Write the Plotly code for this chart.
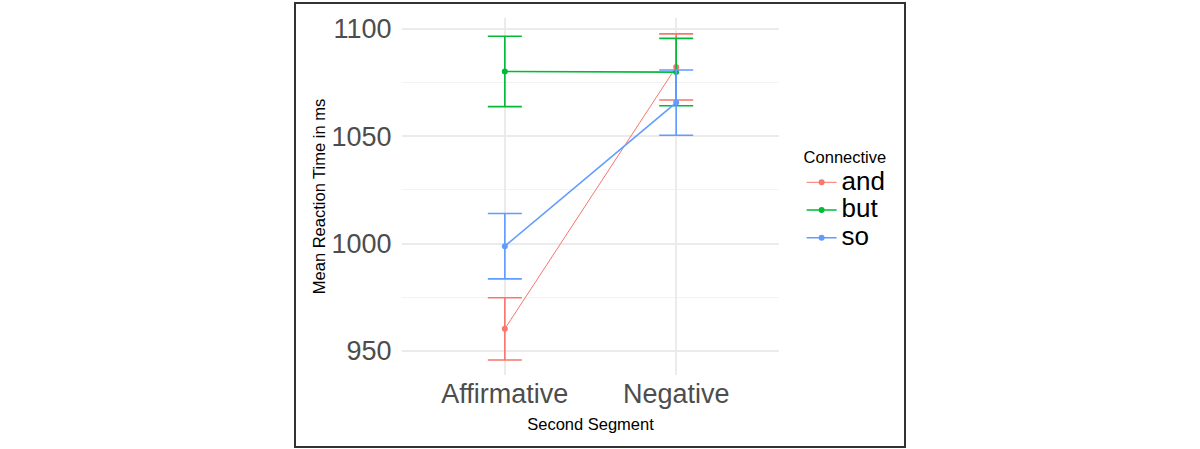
import plotly.graph_objects as go

segments = ["Affirmative", "Negative"]
connectives = ["and", "but", "so"]
mean_rt = {
    "and": [960.3, 1082.3],
    "but": [1080.2, 1079.9],
    "so": [998.8, 1065.7],
}
se_rt = {
    "and": [14.5, 15.4],
    "but": [16.4, 15.7],
    "so": [15.2, 15.2],
}
colours = {"and": "#F8766D", "but": "#00BA38", "so": "#619CFF"}
line_w = {"and": 1.0, "but": 1.6, "so": 1.6}

W, H = 1200, 449
L, R, T, B = 402, 779, 18, 375

fig = go.Figure()
for c in connectives:
    fig.add_trace(go.Scatter(
        x=segments, y=mean_rt[c], mode="lines+markers",
        # big legend text but tight rows: legend font is small, span is big
        name='<span style="font-size:26px">%s</span>' % c,
        line=dict(color=colours[c], width=line_w[c]),
        marker=dict(color=colours[c], size=6),
        error_y=dict(type="data", array=se_rt[c], color=colours[c],
                     thickness=1.6, width=17),
    ))

# black frame round the whole figure (pixel -> paper)
def px(x):
    return (x - L) / (R - L)

def py(y):
    return 1 - (y - T) / (B - T)

fig.add_shape(type="rect", xref="paper", yref="paper",
              x0=px(295), x1=px(905), y0=py(447), y1=py(3),
              line=dict(color="#333333", width=2))

fig.update_layout(
    width=W, height=H,
    margin=dict(l=L, r=W - R, t=T, b=H - B),
    plot_bgcolor="white", paper_bgcolor="white",
    font=dict(family="Liberation Sans, Arial, sans-serif", color="black"),
    hovermode=False,
    legend=dict(
        title=dict(text="Connective", font=dict(size=16.5, color="black")),
        font=dict(size=19, color="black"),
        x=1.06, y=py(142), xanchor="left", yanchor="top",
        itemwidth=30, tracegroupgap=0,
    ),
    xaxis=dict(
        type="category", range=[-0.6, 1.6],
        showgrid=True, gridcolor="#EBEBEB", gridwidth=1.5,
        zeroline=False, showline=False,
        ticks="", tickfont=dict(size=27, color="#4D4D4D"),
        title=dict(text="Second Segment", font=dict(size=16.5, color="black"),
                   standoff=10),
    ),
    yaxis=dict(
        range=[938.8, 1105.1],
        tickvals=[950, 1000, 1050, 1100],
        showgrid=True, gridcolor="#EBEBEB", gridwidth=1.5,
        minor=dict(tickvals=[975, 1025, 1075], showgrid=True,
                   gridcolor="#F3F3F3", gridwidth=1),
        zeroline=False, showline=False,
        ticks="outside", ticklen=4, tickcolor="rgba(0,0,0,0)",
        tickfont=dict(size=27, color="#4D4D4D"),
        title=dict(text="Mean Reaction Time in ms",
                   font=dict(size=16.5, color="black"), standoff=1),
    ),
)

fig.write_html("out.html", config={"displayModeBar": False},
               post_script="document.body.style.margin='0';")
